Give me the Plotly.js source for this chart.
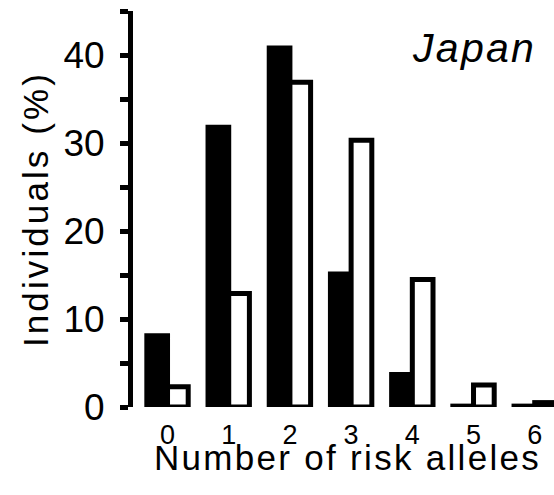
<!DOCTYPE html>
<html>
<head>
<meta charset="utf-8">
<script src="https://cdn.plot.ly/plotly-3.0.1.min.js"></script>
<style>
  html, body { margin: 0; padding: 0; background: #fff; }
  #chart { width: 554px; height: 495px; }
  .ytitle { letter-spacing: 3.1px; }
  .annotation-text { letter-spacing: 2.3px; }
</style>
</head>
<body>
<div id="chart"></div>
<script>
// Number of risk alleles carried per individual
const riskAlleles = ['0', '1', '2', '3', '4', '5', '6'];
// Share of individuals (%) in each group
const filledGroup = [8.1, 31.8, 40.8, 15.1, 3.7, 0.1, 0.1];
const openGroup   = [2.3, 12.9, 36.9, 30.3, 14.5, 2.5, 0.5];
// Y-axis ticks every 5, labels every 10
const yTickVals = [0, 5, 10, 15, 20, 25, 30, 35, 40, 45];
const yTickText = ['0', '', '10', '', '20', '', '30', '', '40', ''];

const FONT = 'Liberation Sans, Arial, Helvetica, sans-serif';

const traces = [
  {
    type: 'bar',
    x: riskAlleles.map(Number),
    y: filledGroup,
    marker: { color: '#000', line: { color: '#000', width: 5 } },
    hoverinfo: 'none'
  },
  {
    type: 'bar',
    x: riskAlleles.map(Number),
    y: openGroup,
    marker: { color: '#fff', line: { color: '#000', width: 5 } },
    hoverinfo: 'none'
  }
];

const layout = {
  width: 554,
  height: 495,
  margin: { l: 133, r: 0, t: 11, b: 88 },
  paper_bgcolor: '#fff',
  plot_bgcolor: '#fff',
  showlegend: false,
  barmode: 'group',
  bargap: 0.324,
  bargroupgap: 0,
  font: { family: FONT, color: '#000' },
  xaxis: {
    range: [-0.564, 6.315],
    tickvals: riskAlleles.map(Number),
    ticktext: riskAlleles,
    showgrid: false,
    zeroline: false,
    showline: false,
    ticks: '',
    ticklabelstandoff: 9,
    tickfont: { family: FONT, size: 27, color: '#000' }
  },
  yaxis: {
    range: [0, 45],
    tickvals: yTickVals,
    ticktext: yTickText,
    showgrid: false,
    zeroline: false,
    showline: true,
    linecolor: '#000',
    linewidth: 5,
    ticks: 'outside',
    ticklen: 8,
    tickwidth: 5,
    tickcolor: '#000',
    ticklabelstandoff: 8,
    tickfont: { family: FONT, size: 37, color: '#000' },
    title: { text: 'Individuals (%)', font: { family: FONT, size: 35, color: '#000' }, standoff: 6 }
  },
  annotations: [
    {
      // x-axis title, set close under the tick labels
      text: 'Number of risk alleles',
      xref: 'paper', yref: 'paper',
      x: 0.51, y: -0.127,
      xanchor: 'center', yanchor: 'middle',
      showarrow: false,
      font: { family: FONT, size: 35, color: '#000' }
    },
    {
      text: 'Japan',
      xref: 'paper', yref: 'paper',
      x: 0.962, y: 0.907,
      xanchor: 'right', yanchor: 'middle',
      showarrow: false,
      font: { family: FONT, size: 41, style: 'italic', color: '#000' }
    }
  ]
};

Plotly.newPlot('chart', traces, layout, { staticPlot: true, displayModeBar: false });
</script>
</body>
</html>
